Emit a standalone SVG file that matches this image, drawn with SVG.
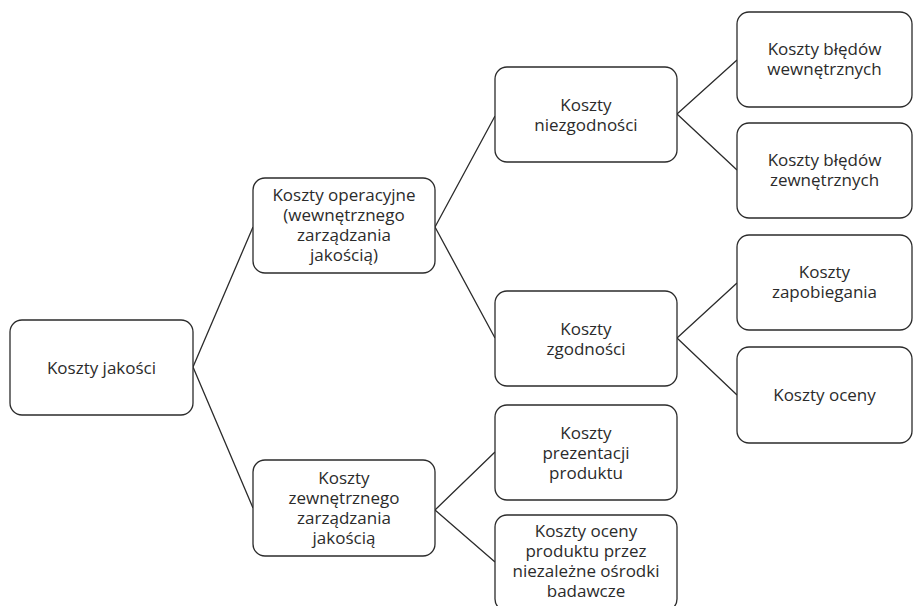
<svg xmlns="http://www.w3.org/2000/svg" width="913" height="606" viewBox="0 0 913 606">
<style>
.box{fill:#fff;stroke:#2b2b2b;stroke-width:1.3}
.lbl{font-family:"Open Sans","Noto Sans",sans-serif;font-size:17px;fill:#2b2b2b;text-anchor:middle}
.con{stroke:#2b2b2b;stroke-width:1.3;fill:none}
</style>
<rect width="913" height="606" fill="#fff"/>
<g id="connectors">
<path class="con" d="M193,367 L253,227 M193,367 L253,508"/>
<path class="con" d="M435,227 L495,116 M435,227 L495,338"/>
<path class="con" d="M435,510 L495,452 M435,510 L495,562"/>
<path class="con" d="M677,114 L737,60 M677,114 L737,170"/>
<path class="con" d="M677,338 L737,283 M677,338 L737,395"/>
</g>
<g id="n1"><rect class="box" x="10" y="320" width="183" height="95" rx="12"/>
<text class="lbl" x="101.5" y="374">Koszty jakości</text></g>
<g id="n2"><rect class="box" x="253" y="178" width="182" height="95" rx="12"/>
<text class="lbl" x="344"><tspan x="344" y="201">Koszty operacyjne</tspan><tspan x="344" y="221">(wewnętrznego</tspan><tspan x="344" y="241">zarządzania</tspan><tspan x="344" y="261">jakością)</tspan></text></g>
<g id="n3"><rect class="box" x="253" y="460" width="182" height="96" rx="12"/>
<text class="lbl" x="344"><tspan x="344" y="484">Koszty</tspan><tspan x="344" y="504">zewnętrznego</tspan><tspan x="344" y="524">zarządzania</tspan><tspan x="344" y="544">jakością</tspan></text></g>
<g id="n4"><rect class="box" x="495" y="67" width="182" height="95" rx="12"/>
<text class="lbl" x="586"><tspan x="586" y="111">Koszty</tspan><tspan x="586" y="131">niezgodności</tspan></text></g>
<g id="n5"><rect class="box" x="495" y="291" width="182" height="95" rx="12"/>
<text class="lbl" x="586"><tspan x="586" y="335">Koszty</tspan><tspan x="586" y="355">zgodności</tspan></text></g>
<g id="n6"><rect class="box" x="495" y="405" width="182" height="95" rx="12"/>
<text class="lbl" x="586"><tspan x="586" y="439">Koszty</tspan><tspan x="586" y="459">prezentacji</tspan><tspan x="586" y="479">produktu</tspan></text></g>
<g id="n7"><rect class="box" x="495" y="515" width="182" height="96" rx="12"/>
<text class="lbl" x="586"><tspan x="586" y="537">Koszty oceny</tspan><tspan x="586" y="557">produktu przez</tspan><tspan x="586" y="577">niezależne ośrodki</tspan><tspan x="586" y="597">badawcze</tspan></text></g>
<g id="n8"><rect class="box" x="737" y="12" width="175" height="95" rx="12"/>
<text class="lbl" x="824.5"><tspan x="824.5" y="55">Koszty błędów</tspan><tspan x="824.5" y="75">wewnętrznych</tspan></text></g>
<g id="n9"><rect class="box" x="737" y="123" width="175" height="95" rx="12"/>
<text class="lbl" x="824.5"><tspan x="824.5" y="166">Koszty błędów</tspan><tspan x="824.5" y="186">zewnętrznych</tspan></text></g>
<g id="n10"><rect class="box" x="737" y="235" width="175" height="95" rx="12"/>
<text class="lbl" x="824.5"><tspan x="824.5" y="278">Koszty</tspan><tspan x="824.5" y="298">zapobiegania</tspan></text></g>
<g id="n11"><rect class="box" x="737" y="347" width="175" height="96" rx="12"/>
<text class="lbl" x="824.5" y="401">Koszty oceny</text></g>
</svg>
